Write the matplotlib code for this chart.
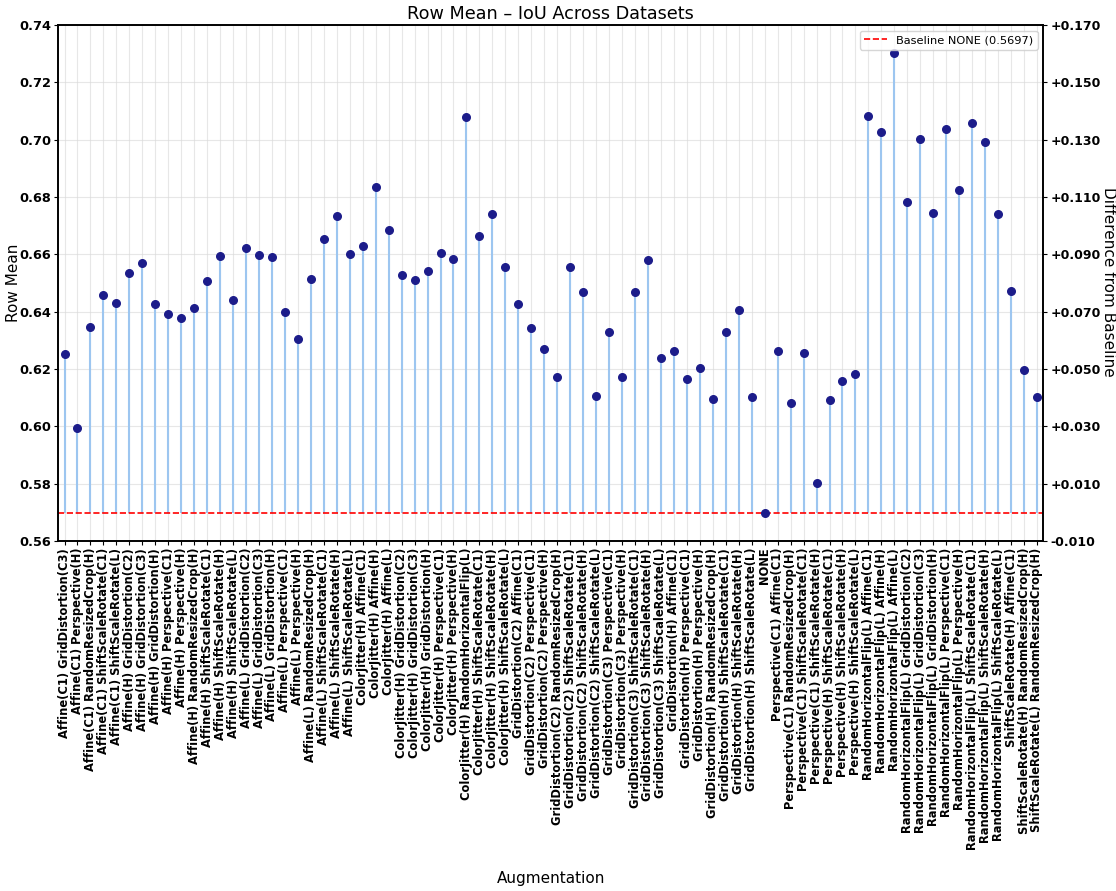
import numpy as np
import matplotlib
matplotlib.use('Agg')
import matplotlib.pyplot as plt

labels = [
    'Affine(C1) GridDistortion(C3)', 'Affine(C1) Perspective(H)', 'Affine(C1) RandomResizedCrop(H)',
    'Affine(C1) ShiftScaleRotate(C1)', 'Affine(C1) ShiftScaleRotate(L)', 'Affine(H) GridDistortion(C2)',
    'Affine(H) GridDistortion(C3)', 'Affine(H) GridDistortion(H)', 'Affine(H) Perspective(C1)',
    'Affine(H) Perspective(H)', 'Affine(H) RandomResizedCrop(H)', 'Affine(H) ShiftScaleRotate(C1)',
    'Affine(H) ShiftScaleRotate(H)', 'Affine(H) ShiftScaleRotate(L)', 'Affine(L) GridDistortion(C2)',
    'Affine(L) GridDistortion(C3)', 'Affine(L) GridDistortion(H)', 'Affine(L) Perspective(C1)',
    'Affine(L) Perspective(H)', 'Affine(L) RandomResizedCrop(H)', 'Affine(L) ShiftScaleRotate(C1)',
    'Affine(L) ShiftScaleRotate(H)', 'Affine(L) ShiftScaleRotate(L)', 'ColorJitter(H) Affine(C1)',
    'ColorJitter(H) Affine(H)', 'ColorJitter(H) Affine(L)', 'ColorJitter(H) GridDistortion(C2)',
    'ColorJitter(H) GridDistortion(C3)', 'ColorJitter(H) GridDistortion(H)', 'ColorJitter(H) Perspective(C1)',
    'ColorJitter(H) Perspective(H)', 'ColorJitter(H) RandomHorizontalFlip(L)', 'ColorJitter(H) ShiftScaleRotate(C1)',
    'ColorJitter(H) ShiftScaleRotate(H)', 'ColorJitter(H) ShiftScaleRotate(L)', 'GridDistortion(C2) Affine(C1)',
    'GridDistortion(C2) Perspective(C1)', 'GridDistortion(C2) Perspective(H)', 'GridDistortion(C2) RandomResizedCrop(H)',
    'GridDistortion(C2) ShiftScaleRotate(C1)', 'GridDistortion(C2) ShiftScaleRotate(H)', 'GridDistortion(C2) ShiftScaleRotate(L)',
    'GridDistortion(C3) Perspective(C1)', 'GridDistortion(C3) Perspective(H)', 'GridDistortion(C3) ShiftScaleRotate(C1)',
    'GridDistortion(C3) ShiftScaleRotate(H)', 'GridDistortion(C3) ShiftScaleRotate(L)', 'GridDistortion(H) Affine(C1)',
    'GridDistortion(H) Perspective(C1)', 'GridDistortion(H) Perspective(H)', 'GridDistortion(H) RandomResizedCrop(H)',
    'GridDistortion(H) ShiftScaleRotate(C1)', 'GridDistortion(H) ShiftScaleRotate(H)', 'GridDistortion(H) ShiftScaleRotate(L)',
    'NONE', 'Perspective(C1) Affine(C1)', 'Perspective(C1) RandomResizedCrop(H)',
    'Perspective(C1) ShiftScaleRotate(C1)', 'Perspective(C1) ShiftScaleRotate(H)', 'Perspective(H) ShiftScaleRotate(C1)',
    'Perspective(H) ShiftScaleRotate(H)', 'Perspective(H) ShiftScaleRotate(L)', 'RandomHorizontalFlip(L) Affine(C1)',
    'RandomHorizontalFlip(L) Affine(H)', 'RandomHorizontalFlip(L) Affine(L)', 'RandomHorizontalFlip(L) GridDistortion(C2)',
    'RandomHorizontalFlip(L) GridDistortion(C3)', 'RandomHorizontalFlip(L) GridDistortion(H)', 'RandomHorizontalFlip(L) Perspective(C1)',
    'RandomHorizontalFlip(L) Perspective(H)', 'RandomHorizontalFlip(L) ShiftScaleRotate(C1)', 'RandomHorizontalFlip(L) ShiftScaleRotate(H)',
    'RandomHorizontalFlip(L) ShiftScaleRotate(L)', 'ShiftScaleRotate(H) Affine(C1)', 'ShiftScaleRotate(H) RandomResizedCrop(H)',
    'ShiftScaleRotate(L) RandomResizedCrop(H)',
]

row_mean = [
    0.6253, 0.5995, 0.6346, 0.6458, 0.6430, 0.6536, 0.6571, 0.6426, 0.6391, 0.6377,
    0.6412, 0.6507, 0.6595, 0.6442, 0.6620, 0.6598, 0.6592, 0.6398, 0.6303, 0.6514,
    0.6652, 0.6735, 0.6601, 0.6630, 0.6833, 0.6684, 0.6527, 0.6509, 0.6543, 0.6605,
    0.6583, 0.7079, 0.6662, 0.6742, 0.6557, 0.6428, 0.6343, 0.6269, 0.6173, 0.6555,
    0.6469, 0.6107, 0.6330, 0.6173, 0.6467, 0.6580, 0.6238, 0.6261, 0.6165, 0.6203,
    0.6095, 0.6329, 0.6406, 0.6102, 0.5697, 0.6261, 0.6082, 0.6255, 0.5801, 0.6090,
    0.6157, 0.6183, 0.7083, 0.7026, 0.7301, 0.6781, 0.7002, 0.6744, 0.7036, 0.6823,
    0.7058, 0.6991, 0.6742, 0.6470, 0.6196, 0.6102,
]

baseline = 0.5697
y_ticks = [0.56, 0.58, 0.60, 0.62, 0.64, 0.66, 0.68, 0.70, 0.72, 0.74]

x = np.arange(len(labels))

fig, ax = plt.subplots(figsize=(11.16, 8.91), dpi=100)
fig.subplots_adjust(left=0.052, right=0.935, top=0.972, bottom=0.393)

ax.vlines(x, baseline, row_mean, color='#9dc6f0', linewidth=1.5, zorder=2)
ax.scatter(x, row_mean, color='#1c1c8a', s=30, zorder=3)
ax.axhline(baseline, color='red', linestyle='--', linewidth=1.2,
           label=f'Baseline NONE ({baseline:.4f})', zorder=2)

ax.set_xlim(-0.5, len(labels) - 0.5)
ax.set_ylim(0.56, 0.74)
ax.set_yticks(y_ticks)
ax.set_yticklabels([f'{t:.2f}' for t in y_ticks], fontweight='bold', fontsize=9.3)
ax.set_xticks(x)
ax.set_xticklabels(labels, rotation=90, fontweight='bold', fontsize=8.3)
ax.tick_params(axis='both', length=3, pad=2)
ax.grid(True, color='#d8d8d8', alpha=0.6, linewidth=0.8)
ax.set_axisbelow(True)

ax.set_title('Row Mean – IoU Across Datasets', fontsize=12.7, pad=4)
ax.set_ylabel('Row Mean', fontsize=11)
ax.yaxis.set_label_coords(-0.038, 0.5)
ax.set_xlabel('Augmentation', fontsize=11, labelpad=15)
ax.legend(loc='upper right', fontsize=8.2)

ax2 = ax.twinx()
ax2.set_ylim(ax.get_ylim())
ax2.set_yticks(y_ticks)
ax2.set_yticklabels([f'{t - baseline:+.3f}' for t in y_ticks], fontweight='bold', fontsize=9.0)
ax2.tick_params(axis='y', length=3, pad=2)
fig.text(1108 / 1116, 1 - 282 / 891, 'Difference from Baseline', fontsize=11,
         rotation=270, ha='center', va='center')

for a in (ax, ax2):
    for s in a.spines.values():
        s.set_linewidth(1.2)

plt.savefig('out.png', dpi=100)
